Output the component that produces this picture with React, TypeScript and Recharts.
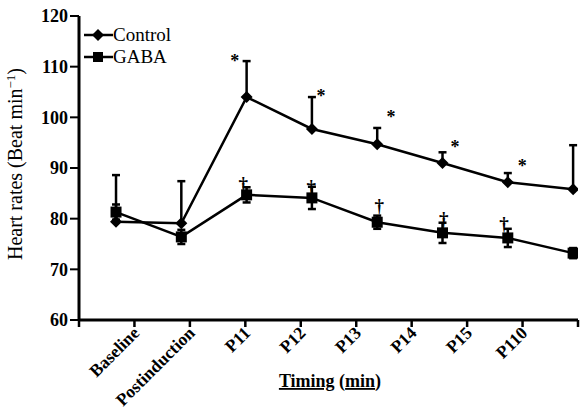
import React from 'react';
import { ComposedChart, Line, XAxis, YAxis, ErrorBar, Scatter, Legend } from 'recharts';

const categories = ['Baseline', 'Postinduction', 'P11', 'P12', 'P13', 'P14', 'P15', 'P110'];
const controlValues = [79.4, 79.1, 104.0, 97.7, 94.7, 91.0, 87.2, 85.8];
const controlErrors = [9.2, 8.3, 7.1, 6.3, 3.2, 2.1, 1.8, 8.7];
const gabaValues = [81.3, 76.4, 84.7, 84.1, 79.3, 77.2, 76.2, 73.2];
const gabaErrors = [1.5, 1.4, 1.5, 2.2, 1.3, 2.0, 1.8, 1.0];
const yTicks = [60, 70, 80, 90, 100, 110, 120];
const xTickPositions = [0, 1, 2, 3, 4, 5, 6, 7, 8, 9];
// significance marks (position along the series index, value on y scale)
const starPos = [1.82, 3.14, 4.21, 5.19, 6.22];
const starValues = [111.9, 105.0, 100.8, 94.9, 91.2];
const daggerPos = [1.95, 2.99, 4.03, 5.02, 5.94];
const daggerValues = [86.8, 86.2, 82.5, 79.9, 78.9];

const rows = categories.map((c, i) => ({
  idx: i,
  name: c,
  control: controlValues[i],
  controlErr: [0, controlErrors[i]],
  gaba: gabaValues[i],
  gabaErr: gabaErrors[i],
}));
const starData = starPos.map((p, i) => ({ idx: p, value: starValues[i] }));
const daggerData = daggerPos.map((p, i) => ({ idx: p, value: daggerValues[i] }));

const FONT = '"Liberation Serif", "Times New Roman", serif';

const Diamond = (props: any) => {
  const { cx, cy } = props;
  if (cx == null || cy == null) return null;
  const r = 6;
  return <polygon points={`${cx},${cy - r} ${cx + r},${cy} ${cx},${cy + r} ${cx - r},${cy}`} fill="#000" />;
};
const Square = (props: any) => {
  const { cx, cy } = props;
  if (cx == null || cy == null) return null;
  const s = 11;
  return <rect x={cx - s / 2} y={cy - s / 2} width={s} height={s} fill="#000" />;
};

const StarShape = (props: any) => {
  const { cx, cy } = props;
  return (
    <text x={cx} y={cy + 10} textAnchor="middle" fontFamily={FONT} fontWeight="bold" fontSize={18} fill="#000">*</text>
  );
};
const DaggerShape = (props: any) => {
  const { cx, cy } = props;
  return (
    <text x={cx} y={cy + 6} textAnchor="middle" fontFamily={FONT} fontWeight="bold" fontSize={19} fill="#000">†</text>
  );
};

const XTick = (props: any) => {
  const { x, y, payload } = props;
  const i = payload.value;
  const label = i >= 1 && i <= categories.length ? categories[i - 1] : '';
  if (!label) return null;
  return (
    <g transform={`translate(${x + 6},${y + 5})`}>
      <text transform="rotate(-45)" textAnchor="end" fontFamily={FONT} fontWeight="bold" fontSize={17.5} fill="#000">
        {label}
      </text>
    </g>
  );
};

const renderLegend = () => {
  const items = [
    { name: 'Control', shape: 'diamond' },
    { name: 'GABA', shape: 'square' },
  ];
  return (
    <div style={{ fontFamily: FONT, fontSize: 19, color: '#000' }}>
      {items.map((it) => (
        <div key={it.name} style={{ display: 'flex', alignItems: 'center', height: 22 }}>
          <svg width={29} height={14} style={{ display: 'block' }}>
            <line x1={0} y1={7} x2={29} y2={7} stroke="#000" strokeWidth={2.5} />
            {it.shape === 'diamond' ? (
              <polygon points="14,1 20,7 14,13 8,7" fill="#000" />
            ) : (
              <rect x={9} y={2} width={10} height={10} fill="#000" />
            )}
          </svg>
          <span style={{ lineHeight: '22px' }}>{it.name}</span>
        </div>
      ))}
    </div>
  );
};

export default function App() {
  return (
    <div style={{ position: 'absolute', left: 0, top: 0, width: 583, height: 409, background: '#fff' }}>
      <ComposedChart width={583} height={409} data={rows} margin={{ top: 16, right: 5, left: 0, bottom: 0 }}>
        <XAxis
          xAxisId="t"
          dataKey="idx"
          type="number"
          scale="linear"
          domain={[0, 9]}
          ticks={xTickPositions}
          interval={0}
          allowDataOverflow
          height={89}
          axisLine={{ stroke: '#000', strokeWidth: 3 }}
          tickLine={{ stroke: '#000', strokeWidth: 2.5 }}
          tickSize={7}
          tick={<XTick />}
          label={{
            content: () => (
              <text x={330} y={387} textAnchor="middle" fontFamily={FONT} fontWeight="bold" fontSize={18} fill="#000">
                <tspan textDecoration="underline">Timing</tspan>
                <tspan> (</tspan>
                <tspan textDecoration="underline">min</tspan>
                <tspan>)</tspan>
              </text>
            ),
          }}
        />
        <XAxis
          xAxisId="d"
          dataKey="idx"
          type="number"
          scale="linear"
          domain={[-0.567, 7.075]}
          allowDataOverflow
          height={0}
          hide
        />
        <YAxis
          type="number"
          domain={[60, 120]}
          ticks={yTicks}
          interval={0}
          width={79}
          axisLine={{ stroke: '#000', strokeWidth: 3 }}
          tickLine={{ stroke: '#000', strokeWidth: 2 }}
          tickSize={9}
          tickMargin={2}
          tick={{ fontFamily: FONT, fontWeight: 'bold', fontSize: 18, fill: '#000' }}
          label={{
            content: () => (
              <text
                transform="translate(22,164) rotate(-90)"
                textAnchor="middle"
                fontFamily={FONT}
                fontSize={20}
                fill="#000"
              >
                <tspan>Heart rates (Beat min</tspan>
                <tspan dy={-7} fontSize={13}>−1</tspan>
                <tspan dy={7}>)</tspan>
              </text>
            ),
          }}
        />
        <Legend
          content={renderLegend}
          layout="vertical"
          align="center"
          verticalAlign="middle"
          wrapperStyle={{ left: 84, top: 24, width: 120 }}
        />
        <Line
          xAxisId="d"
          dataKey="control"
          name="Control"
          stroke="#000"
          strokeWidth={2.5}
          dot={<Diamond />}
          activeDot={false}
          isAnimationActive={false}
        >
          <ErrorBar dataKey="controlErr" width={4} stroke="#000" strokeWidth={2.5} direction="y" />
        </Line>
        <Line
          xAxisId="d"
          dataKey="gaba"
          name="GABA"
          stroke="#000"
          strokeWidth={2.5}
          dot={<Square />}
          activeDot={false}
          isAnimationActive={false}
        >
          <ErrorBar dataKey="gabaErr" width={4} stroke="#000" strokeWidth={2.5} direction="y" />
        </Line>
        <Scatter xAxisId="d" data={starData} dataKey="value" shape={<StarShape />} isAnimationActive={false} legendType="none" />
        <Scatter xAxisId="d" data={daggerData} dataKey="value" shape={<DaggerShape />} isAnimationActive={false} legendType="none" />
      </ComposedChart>
    </div>
  );
}
